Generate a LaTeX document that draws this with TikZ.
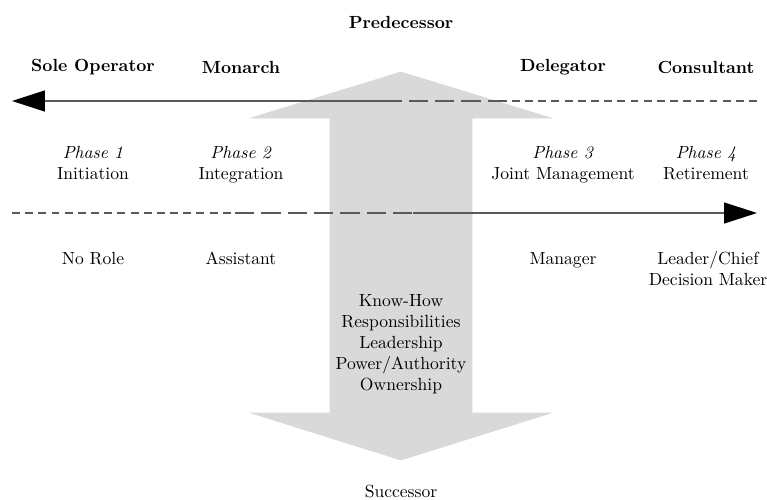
\documentclass[tikz,border=0pt]{standalone}
\usepackage{tikz}
\usetikzlibrary{arrows.meta}

\begin{document}
\begin{tikzpicture}[x=0.02cm, y=-0.02cm,
		role/.style={font=\bfseries},
		txt/.style={align=center, anchor=north},
		one/.style={anchor=base},
		line/.style={black!65, line width=0.8pt},
		short/.style={line, dash pattern=on 4.5pt off 3pt},
		long/.style={line, dash pattern=on 11pt off 4pt},
		tip/.style={-{Triangle[length=0.66cm, width=0.42cm, color=black]}}]
			\useasboundingbox (0,0) rectangle (767,500);
			\filldraw[fill=gray!30, draw=gray!30] (401,72)--(551,118)--(472,118)--(472,413)--(551,413)--(401,460)--(251,413)--(330,413)--(330,118)--(251,118)--cycle;
			
			\coordinate (tl) at (12,101);  \coordinate (tm) at (402,101);
			\coordinate (tk) at (507,101); \coordinate (tr) at (757,101);
			\coordinate (bl) at (12,213);  \coordinate (bk) at (235,213);
			\coordinate (bm) at (413,213); \coordinate (br) at (757,213);
			\draw[short] (tr)--(tk);
			\draw[long] (tk)--(tm);
			\draw[line, tip] (tm)--(tl);
			\draw[short] (bl)--(bk);
			\draw[long] (bk)--(bm);
			\draw[line, tip] (bm)--(br);
			
			\node[role] (pred) at (401,22){Predecessor};
			\node[role] (sole) at (93,67){Sole Operator};
			\node[role] (monarch) at (241,67){Monarch};
			\node[role] (deleg) at (563,67){Delegator};
			\node[role] (consult) at (706,67){Consultant};
			\node[txt] (ph1) at (93,140){\textit{Phase 1}\\Initiation};
			\node[txt] (ph2) at (241,140){\textit{Phase 2}\\Integration};
			\node[txt] (ph3) at (563,140){\textit{Phase 3}\\Joint Management};
			\node[txt] (ph4) at (706,140){\textit{Phase 4}\\Retirement};
			\node[one] (norole) at (93,264){No Role};
			\node[one] (assist) at (241,264){Assistant};
			\node[one] (manager) at (563,264){Manager};
			\node[txt] (leader) at (708,245){Leader/Chief\\Decision Maker};
			\node[txt] (items) at (401,288){Know-How\\Responsibilities\\Leadership\\Power/Authority\\Ownership};
			\node (succ) at (401,491){Successor};
		\end{tikzpicture}
\end{document}
